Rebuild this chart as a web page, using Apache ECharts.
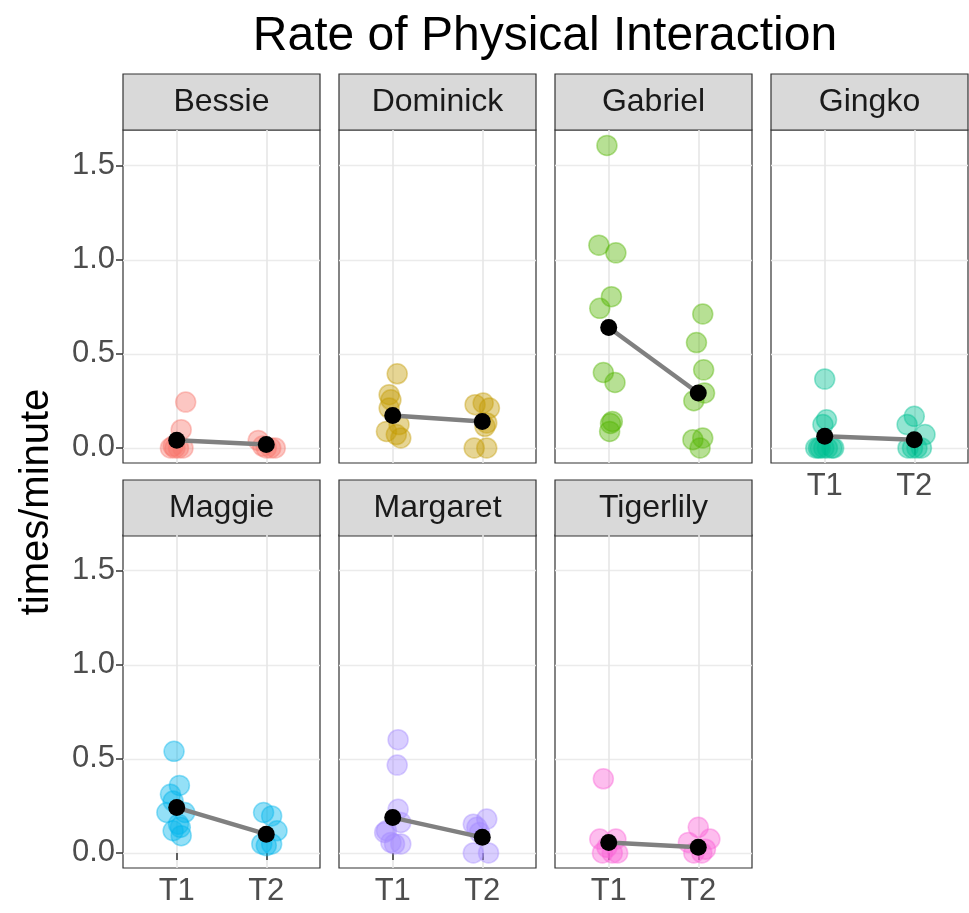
<!DOCTYPE html>
<html>
<head>
<meta charset="utf-8">
<title>Rate of Physical Interaction</title>
<script src="https://cdn.jsdelivr.net/npm/echarts@6/dist/echarts.min.js"></script>
<style>
  html, body { margin: 0; padding: 0; background: #fff; }
  #chart { width: 969px; height: 913px; }
</style>
</head>
<body>
<div id="chart"></div>
<script>
const animals = ['Bessie', 'Dominick', 'Gabriel', 'Gingko', 'Maggie', 'Margaret', 'Tigerlily']
const timeLabels = ['T1', 'T2']
const yTicks = [0, 0.5, 1.0, 1.5]
const yGrid = [0, 0.25, 0.5, 0.75, 1.0, 1.25, 1.5]

// [jittered x, rate], x: 1 = T1, 2 = T2
const bessieT1 = [[0.93, 0], [0.98, 0], [1.02, 0], [1.07, 0], [0.96, 0.01], [1.05, 0.097], [1.10, 0.244]]
const bessieT2 = [[1.91, 0.04], [1.96, 0.01], [2.0, 0], [2.05, 0], [2.1, 0]]
const dominickT1 = [[1.05, 0.394], [0.96, 0.283], [0.98, 0.256], [0.96, 0.212], [1.07, 0.124], [0.93, 0.088], [1.04, 0.071], [1.09, 0.053]]
const dominickT2 = [[1.92, 0.23], [2.01, 0.239], [2.08, 0.212], [2.05, 0.133], [2.03, 0.115], [1.91, 0.0], [2.05, 0.0]]
const gabrielT1 = [[0.98, 1.608], [0.89, 1.078], [1.08, 1.037], [1.03, 0.804], [0.90, 0.742], [0.94, 0.401], [1.07, 0.348], [1.04, 0.141], [1.02, 0.13], [1.01, 0.088]]
const gabrielT2 = [[2.05, 0.712], [1.98, 0.56], [2.06, 0.415], [2.07, 0.292], [1.95, 0.251], [2.05, 0.053], [1.94, 0.044], [2.02, 0.0]]
const gingkoT1 = [[1.0, 0.366], [1.02, 0.15], [0.98, 0.124], [0.9, 0], [0.95, 0], [0.99, 0], [1.03, 0], [1.08, 0], [1.1, 0], [0.93, 0]]
const gingkoT2 = [[2.0, 0.168], [1.92, 0.124], [2.12, 0.071], [1.93, 0], [1.98, 0], [2.03, 0], [2.08, 0]]
const maggieT1 = [[0.97, 0.54], [1.03, 0.359], [0.93, 0.312], [0.96, 0.276], [0.89, 0.215], [1.09, 0.215], [1.02, 0.153], [0.96, 0.118], [1.05, 0.092], [1.04, 0.136]]
const maggieT2 = [[1.97, 0.215], [2.06, 0.197], [2.12, 0.118], [1.95, 0.048], [2.06, 0.048], [2.0, 0.039]]
const margaretT1 = [[1.06, 0.602], [1.05, 0.467], [1.06, 0.232], [1.09, 0.162], [0.93, 0.118], [0.91, 0.109], [0.98, 0.056], [1.09, 0.048], [1.02, 0.048]]
const margaretT2 = [[2.05, 0.18], [1.9, 0.153], [1.94, 0.136], [1.97, 0.109], [1.9, 0.0], [2.07, 0.0]]
const tigerlilyT1 = [[0.94, 0.394], [0.9, 0.074], [1.08, 0.074], [0.93, 0], [1.04, 0], [0.98, 0.03], [1.1, 0]]
const tigerlilyT2 = [[2.0, 0.136], [2.13, 0.074], [1.89, 0.056], [1.95, 0], [2.04, 0], [2.08, 0.02]]

// group means (black dots)
const meanT1 = [0.041, 0.173, 0.640, 0.062, 0.241, 0.188, 0.056]
const meanT2 = [0.018, 0.141, 0.292, 0.044, 0.100, 0.083, 0.030]

const points = [
  bessieT1.concat(bessieT2),
  dominickT1.concat(dominickT2),
  gabrielT1.concat(gabrielT2),
  gingkoT1.concat(gingkoT2),
  maggieT1.concat(maggieT2),
  margaretT1.concat(margaretT2),
  tigerlilyT1.concat(tigerlilyT2)
]

const palette = ['#F8766D', '#C49A00', '#53B400', '#00C094', '#00B6EB', '#A58AFF', '#FB61D7']
const font = '"Liberation Sans", Arial, Helvetica, sans-serif'

// panel layout (ggplot facet_wrap, 4 columns)
const colLeft = [123, 339, 555, 771]
const panelW = 197
const rowTop = [130, 535]
const panelH = 333
const stripTop = [74, 480]
const stripH = 56

const myChart = echarts.init(document.getElementById('chart'))

const grids = []
const xAxes = []
const yAxes = []
const series = []
const graphics = []

animals.forEach((name, i) => {
  const row = i < 4 ? 0 : 1
  const col = i % 4
  const showX = i >= 3
  const showY = col === 0
  grids.push({
    left: colLeft[col],
    top: rowTop[row],
    width: panelW,
    height: panelH,
    show: true,
    backgroundColor: '#fff',
    borderColor: '#333333',
    borderWidth: 1.2
  })
  xAxes.push({
    gridIndex: i,
    type: 'value',
    min: 0.4,
    max: 2.6,
    axisLine: { show: false },
    axisTick: {
      show: showX,
      customValues: [1, 2],
      length: 7,
      lineStyle: { color: '#333333', width: 1.5 }
    },
    axisLabel: {
      show: showX,
      customValues: [1, 2],
      formatter: v => timeLabels[Math.round(v) - 1],
      fontSize: 31,
      fontFamily: font,
      color: '#4D4D4D',
      margin: 8
    },
    splitLine: {
      show: true,
      customValues: [1, 2],
      lineStyle: { color: '#E6E6E6', width: 1.6 }
    }
  })
  yAxes.push({
    gridIndex: i,
    type: 'value',
    min: -0.08,
    max: 1.69,
    axisLine: { show: false },
    axisTick: {
      show: showY,
      customValues: yTicks,
      length: 7,
      lineStyle: { color: '#333333', width: 1.5 }
    },
    axisLabel: {
      show: showY,
      customValues: yTicks,
      formatter: v => v.toFixed(1),
      fontSize: 31,
      fontFamily: font,
      color: '#4D4D4D',
      margin: 8
    },
    splitLine: {
      show: true,
      customValues: yGrid,
      lineStyle: { color: '#EBEBEB', width: 1.3 }
    }
  })

  series.push({
    type: 'scatter',
    xAxisIndex: i,
    yAxisIndex: i,
    data: points[i],
    symbolSize: 20,
    itemStyle: {
      color: palette[i],
      opacity: 0.42,
      borderColor: palette[i],
      borderWidth: 1.5
    },
    silent: true
  })
  series.push({
    type: 'line',
    xAxisIndex: i,
    yAxisIndex: i,
    data: [[1, meanT1[i]], [2, meanT2[i]]],
    symbol: 'circle',
    symbolSize: 17,
    showSymbol: true,
    lineStyle: { color: '#808080', width: 4.5 },
    itemStyle: { color: '#000' },
    z: 3,
    silent: true
  })

  // facet strip
  graphics.push({
    type: 'rect',
    shape: { x: colLeft[col], y: stripTop[row], width: panelW, height: stripH },
    style: { fill: '#D9D9D9', stroke: '#333333', lineWidth: 1.2 }
  })
  graphics.push({
    type: 'text',
    x: colLeft[col] + panelW / 2,
    y: stripTop[row] + stripH / 2,
    style: {
      text: name,
      fill: '#1A1A1A',
      font: '32px ' + font,
      textAlign: 'center',
      textVerticalAlign: 'middle'
    }
  })
})

graphics.push({
  type: 'text',
  x: 545,
  y: 13,
  style: {
    text: 'Rate of Physical Interaction',
    fill: '#000',
    font: '48px ' + font,
    textAlign: 'center',
    textVerticalAlign: 'top'
  }
})
graphics.push({
  type: 'text',
  x: 37,
  y: 502,
  rotation: Math.PI / 2,
  style: {
    text: 'times/minute',
    fill: '#000',
    font: '40px ' + font,
    textAlign: 'center',
    textVerticalAlign: 'middle'
  }
})

const option = {
  backgroundColor: '#fff',
  animation: false,
  grid: grids,
  xAxis: xAxes,
  yAxis: yAxes,
  series: series,
  graphic: graphics
}

myChart.setOption(option)
</script>
</body>
</html>
